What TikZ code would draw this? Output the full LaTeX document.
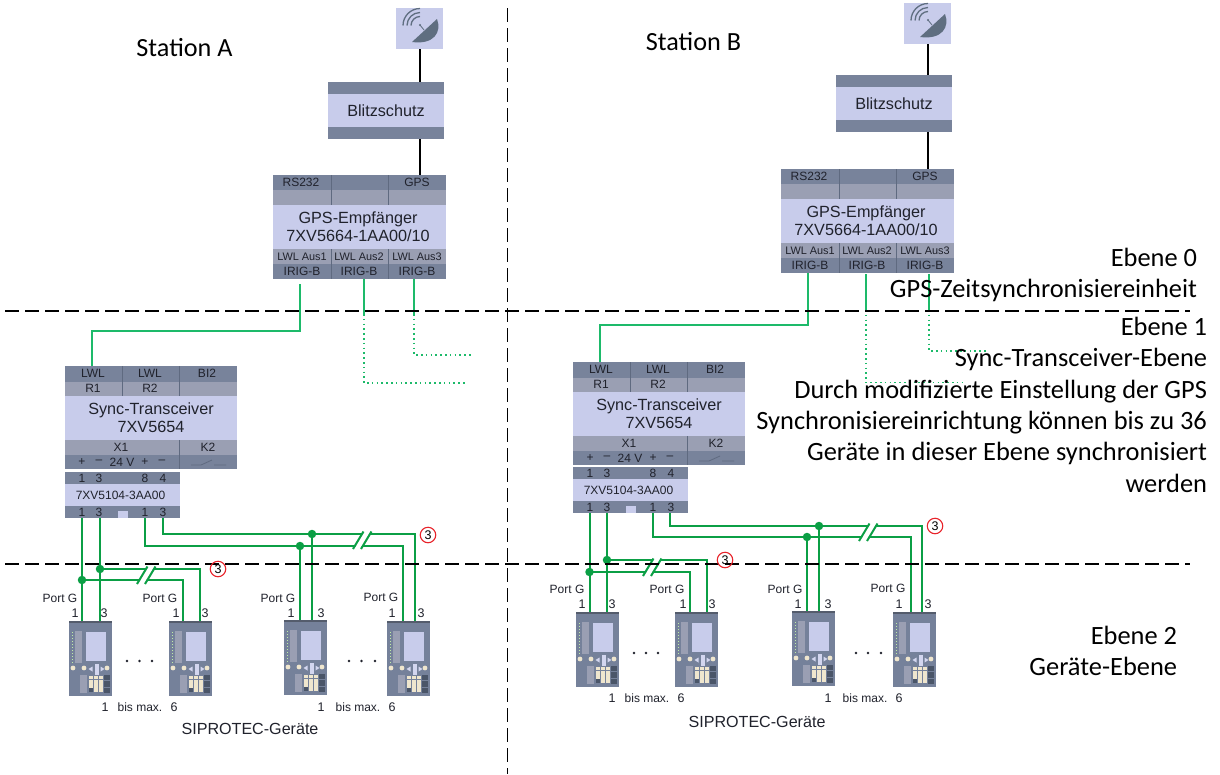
\documentclass[tikz,border=0pt]{standalone}
\usepackage{fontspec}
\setmainfont{Liberation Sans}
\newfontfamily\calib{Carlito}
\definecolor{lightb}{HTML}{C8CCEB}
\definecolor{darkb}{HTML}{78839B}
\definecolor{midb}{HTML}{9A9FB3}
\definecolor{divb}{HTML}{5F6A80}
\definecolor{ink}{HTML}{20222C}
\definecolor{wireg}{HTML}{0B9F45}
\definecolor{fibreg}{HTML}{1DBA6A}
\definecolor{devb}{HTML}{75819A}
\definecolor{dishc}{HTML}{5F6E80}
\definecolor{creamk}{HTML}{EFE6CE}
\definecolor{darkk}{HTML}{4A5568}
\definecolor{redc}{HTML}{E8232A}
\tikzset{
  x=1pt,y=-1pt,
  every node/.style={inner sep=0pt,outer sep=0pt,text=ink},
  band/.style={anchor=north west,draw=none,minimum height=#1},
  lt/.style={band=#1,fill=lightb},
  sm/.style={font=\fontsize{12}{14}\selectfont},
  tiny/.style={font=\fontsize{10.9}{13}\selectfont},
  big/.style={font=\fontsize{16.2}{18}\selectfont,align=center},
  lab/.style={font=\fontsize{12}{14}\selectfont},
  labn/.style={font=\fontsize{12.5}{14}\selectfont},
  devtitle/.style={font=\fontsize{16.1}{18}\selectfont},
  blackline/.style={draw=black,line width=2pt},
  fibre/.style={draw=fibreg,line width=1.9pt},
  fibredot/.style={draw=fibreg,line width=1.6pt,dash pattern=on 1.6pt off 3.2pt},
  cu/.style={draw=wireg,line width=2pt},
  junct/.style={circle,fill=wireg,minimum size=8.5pt},
  sepline/.style={draw=black,line width=1.6pt,dash pattern=on 13.5pt off 6.5pt},
  divl/.style={draw=divb,line width=.6pt},
  note/.style={font=\calib\fontsize{26.4}{31.4}\selectfont,text=black,align=right,anchor=north east},
  titl/.style={font=\calib\fontsize{26.2}{30}\selectfont,text=black},
  numcirc/.style={circle,draw=redc,line width=1.1pt,minimum size=15.5pt,font=\fontsize{12.5}{14}\selectfont,text=black},
  elip/.style={circle,fill=ink,minimum size=2.6pt},
  siprotec/.pic={
    \node[anchor=north west,fill=devb,minimum width=43pt,minimum height=75pt] (-body) at (0,0) {};
    \fill[darkb!70!black] (0,0) rectangle (43,2);
    \fill[midb] (6,10) rectangle (13,42);
    \foreach \q in {11,14,...,41}{\fill[creamk!80!green] (3,\q) rectangle (4,\q+1);}
    \fill[lightb] (17,11) rectangle (37,40);
    \foreach \q in {4,15,38}{\fill[creamk] (\q,47) circle (2.4);}
    \fill[lightb!80!white] (25.5,42.5) rectangle (29.5,54);
    \fill[lightb!80!white] (23.5,45.5) -- (19.5,48) -- (23.5,50.5) -- cycle;
    \fill[lightb!80!white] (31.5,45.5) -- (35.5,48) -- (31.5,50.5) -- cycle;
    \fill[midb] (11,54) rectangle (18,72);
    \foreach \p in {0,1,2}{\foreach \r in {0,1,2,3}{
      \fill[creamk] (20+\p*4.8,55+\r*4.1) rectangle (24.1+\p*4.8,58.4+\r*4.1);}}
    \fill[darkk] (20,67.3) rectangle (24.1,70.7);
    \foreach \r in {0,1,2}{\fill[darkk] (35,54+\r*6.3) rectangle (41,59.4+\r*6.3);}
  }
}
\newcommand{\satunit}[3]{\begin{scope}[shift={(#2,#3)}]
  \node[lt=41pt,minimum width=47pt] (#1) at (0,0) {};
  \fill[dishc] (16,34) -- (41,11) .. controls (46,24) and (38,37) .. (16,34) -- cycle;
  \foreach \r in {9,13,17}{\draw[draw=dishc,line width=1.3pt] (24-\r,17.5) .. controls (24-\r,17.5-.55*\r) and (24-.55*\r,17.5-\r) .. (24,17.5-\r);}
  \draw[draw=dishc,line width=.8pt] (24,17) -- (28,22);
  \fill[dishc] (24,17) circle (1.2);
\end{scope}}
\newcommand{\blitzunit}[3]{\begin{scope}[shift={(#2,#3)}]
  \node[lt=57pt,minimum width=116pt] (#1) at (0,0) {};
  \fill[darkb] (0,0) rectangle (116,12);
  \fill[darkb] (0,45) rectangle (116,57);
  \node[big] (#1t) at (58,28.5) {Blitzschutz};
\end{scope}}
\newcommand{\gpsunit}[3]{\begin{scope}[shift={(#2,#3)}]
  \node[lt=104pt,minimum width=173pt] (#1) at (0,0) {};
  \fill[darkb] (0,0) rectangle (173,15);
  \fill[midb] (0,15) rectangle (173,30);
  \fill[midb] (0,74) rectangle (173,89);
  \fill[darkb] (0,89) rectangle (173,104);
  \draw[divl] (58,0) -- (58,30) (115,0) -- (115,30) (58,74) -- (58,104) (115,74) -- (115,104);
  \node[sm] (#1a) at (28,7.5) {RS232};
  \node[sm] (#1b) at (144,7.5) {GPS};
  \node[big] (#1c) at (85,52) {GPS-Empfänger\\7XV5664-1AA00/10};
  \foreach \c/\n/\t in {29/1/LWL Aus1,86/2/LWL Aus2,144/3/LWL Aus3}{
    \node[tiny] (#1l\n) at (\c,81.5) {\t};
    \node[sm] (#1i\n) at (\c,96.5) {IRIG-B};}
\end{scope}}
\newcommand{\syncunit}[3]{\begin{scope}[shift={(#2,#3)}]
  \node[lt=103pt,minimum width=172pt] (#1) at (0,0) {};
  \fill[darkb] (0,0) rectangle (172,15.5);
  \fill[midb] (0,15.5) rectangle (172,30);
  \fill[midb] (0,74) rectangle (172,89);
  \fill[darkb] (0,89) rectangle (172,103);
  \draw[divl] (57.5,0) -- (57.5,30) (114.5,0) -- (114.5,30) (114.5,74) -- (114.5,103);
  \node[sm] (#1a) at (28,7.5) {LWL};
  \node[sm] (#1b) at (85,7.5) {LWL};
  \node[sm] (#1c) at (142,7.5) {BI2};
  \node[sm] (#1d) at (28,22.5) {R1};
  \node[sm] (#1e) at (85,22.5) {R2};
  \node[big] (#1f) at (86,52) {Sync-Transceiver\\7XV5654};
  \node[sm] (#1g) at (56,81.5) {X1};
  \node[sm] (#1h) at (143,81.5) {K2};
  \node[sm] (#1i) at (17,96) {+};
  \node[sm] (#1j) at (34,96) {–};
  \node[sm] (#1k) at (57,96) {24 V};
  \node[sm] (#1m) at (80,96) {+};
  \node[sm] (#1n) at (97,96) {–};
  \draw[draw=divb,line width=.8pt] (126,99) -- (136,99) -- (147,94) (149,99) -- (161,99);
\end{scope}}
\newcommand{\splitunit}[3]{\begin{scope}[shift={(#2,#3)}]
  \node[lt=46pt,minimum width=115pt] (#1) at (0,0) {};
  \fill[darkb] (0,0) rectangle (115,12);
  \fill[darkb] (0,34) rectangle (115,46);
  \fill[lightb] (53,39) rectangle (63,46);
  \foreach \c/\n/\t in {17/a/1,34/b/3,80/c/8,98/d/4}{\node[sm] (#1t\n) at (\c,6) {\t};}
  \foreach \c/\n/\t in {17/a/1,34/b/3,80/c/1,98/d/3}{\node[sm] (#1b\n) at (\c,40) {\t};}
  \node[sm] (#1m) at (55.5,23) {7XV5104-3AA00};
\end{scope}}
\newcommand{\brk}[2]{%
  \fill[white] (#1+1,#2) -- (#1+11.5,#2-17.5) -- (#1+17.5,#2-17.5) -- (#1+7,#2) -- cycle;
  \draw[cu] (#1,#2) -- (#1+10.5,#2-17.5);
  \draw[cu] (#1+8,#2) -- (#1+18.5,#2-17.5);}
\begin{document}
\begin{tikzpicture}
\useasboundingbox (0,0) rectangle (1220,774);
\fill[white] (0,0) rectangle (1220,774);

% ---- Station A
\satunit{satA}{396}{8}
\blitzunit{blA}{328}{82}
\gpsunit{gpsA}{273}{175}
\syncunit{syA}{65}{366}
\splitunit{spA}{65}{472}
\pic (dA1) at (69,621) {siprotec};
\pic (dA2) at (169,621) {siprotec};
\pic (dA3) at (284,620) {siprotec};
\pic (dA4) at (387,621) {siprotec};

% ---- Station B
\satunit{satB}{904}{3}
\blitzunit{blB}{836}{75}
\gpsunit{gpsB}{781}{169}
\syncunit{syB}{573}{362}
\splitunit{spB}{573}{467}
\pic (dB1) at (576,612) {siprotec};
\pic (dB2) at (675,612) {siprotec};
\pic (dB3) at (792,611) {siprotec};
\pic (dB4) at (893,612) {siprotec};

% black connectors
\draw[blackline] (satA.south) -- (satA.south |- blA.north);
\draw[blackline] (satA.south |- blA.south) -- (satA.south |- gpsA.north);
\draw[blackline] (satB.south) -- (satB.south |- blB.north);
\draw[blackline] (satB.south |- blB.south) -- (satB.south |- gpsB.north);

% fibre A
\coordinate (fa1) at (300,284);
\coordinate (fa2) at (364,279);
\coordinate (fa3) at (414,279);
\coordinate (fa2m) at (364,314);
\coordinate (fa3m) at (414,314);
\coordinate (fa2e) at (467,383);
\coordinate (fa3e) at (472,355);
\coordinate (sa) at (92,366);
\draw[fibre] (fa1) -- (300,331) -- (92,331) -- (sa);
\draw[fibre] (fa2) -- (fa2m);
\draw[fibre] (fa3) -- (fa3m);
\draw[fibredot] (fa2m) -- (fa2m |- fa2e) -- (fa2e);
\draw[fibredot] (fa3m) -- (fa3m |- fa3e) -- (fa3e);

% fibre B
\coordinate (fb1) at (808,273);
\coordinate (fb2) at (866,274);
\coordinate (fb3) at (929,274);
\coordinate (fb2m) at (866,310);
\coordinate (fb3m) at (929,310);
\coordinate (fb2e) at (966,382.5);
\coordinate (fb3e) at (988,351);
\coordinate (sb) at (600,362);
\draw[fibre] (fb1) -- (808,325) -- (600,325) -- (sb);
\draw[fibre] (fb2) -- (fb2m);
\draw[fibre] (fb3) -- (fb3m);
\draw[fibredot] (fb2m) -- (fb2m |- fb2e) -- (fb2e);
\draw[fibredot] (fb3m) -- (fb3m |- fb3e) -- (fb3e);

% copper A
\coordinate (pa1) at (82,518);
\coordinate (pa2) at (100,518);
\coordinate (pa3) at (145,518);
\coordinate (pa4) at (163,518);
\draw[cu] (pa1) -- (82,621);
\draw[cu] (pa2) -- (100,621);
\draw[cu] (82,580) -- (183,580) -- (183,621);
\draw[cu] (100,569) -- (200,569) -- (200,621);
\draw[cu] (pa3) -- (145,546) -- (403,546) -- (403,621);
\draw[cu] (pa4) -- (163,534) -- (415,534) -- (415,621);
\draw[cu] (300,546) -- (300,620);
\draw[cu] (312,534) -- (312,620);
\node[junct] (ja1) at (82,580) {};
\node[junct] (ja2) at (100,569) {};
\node[junct] (ja3) at (300,546) {};
\node[junct] (ja4) at (312,534) {};
\brk{137}{584}
\brk{353}{549}

% copper B
\coordinate (pb1) at (589.5,513);
\coordinate (pb2) at (607,513);
\coordinate (pb3) at (653,513);
\coordinate (pb4) at (670,513);
\draw[cu] (pb1) -- (589.5,612);
\draw[cu] (pb2) -- (607,612);
\draw[cu] (589.5,572) -- (690,572) -- (690,612);
\draw[cu] (607,560) -- (707,560) -- (707,612);
\draw[cu] (pb3) -- (653,537) -- (911,537) -- (911,612);
\draw[cu] (pb4) -- (670,526) -- (922,526) -- (922,612);
\draw[cu] (807,537) -- (807,611);
\draw[cu] (819,526) -- (819,611);
\node[junct] (jb1) at (589.5,572) {};
\node[junct] (jb2) at (607,560) {};
\node[junct] (jb3) at (807,537) {};
\node[junct] (jb4) at (819,526) {};
\brk{643}{576}
\brk{859}{541}

% level separators
\coordinate (h1a) at (5,311);
\coordinate (h1b) at (1190,311);
\coordinate (h2a) at (5,564);
\coordinate (h2b) at (1190,564);
\coordinate (v1a) at (507.5,8);
\coordinate (v1b) at (507.5,774);
\draw[sepline] (h1a) -- (h1b);
\draw[sepline] (h2a) -- (h2b);
\draw[sepline] (v1a) -- (v1b);

% circled numbers
\node[numcirc] (ca1) at (428,535) {3};
\node[numcirc] (ca2) at (218,569) {3};
\node[numcirc] (cb1) at (935,526) {3};
\node[numcirc] (cb2) at (725,560) {3};

% port labels A
\foreach \n/\x/\y in {a/60/598,b/160/598,c/278/598,d/381/597}{\node[lab] (pgA\n) at (\x,\y) {Port G};}
\foreach \n/\x/\t in {a/75/1,b/104/3,c/176/1,d/205/3,e/291/1,f/321/3,g/392/1,h/421/3}{\node[labn] (nA\n) at (\x,613) {\t};}
\foreach \n/\x in {a/127,b/139.5,c/152,d/349,e/361.5,f/375}{\node[elip] (dotA\n) at (\x,661) {};}
\node[labn] (uA1) at (105,707) {1};
\node[lab] (uA2) at (140,707) {bis max.};
\node[labn] (uA3) at (174,707) {6};
\node[labn] (uA4) at (321,707) {1};
\node[lab] (uA5) at (358,707) {bis max.};
\node[labn] (uA6) at (392,707) {6};
\node[devtitle] (sipA) at (250,729) {SIPROTEC-Geräte};

% port labels B
\foreach \n/\x/\y in {a/567/589,b/667/589,c/785/589,d/888/588}{\node[lab] (pgB\n) at (\x,\y) {Port G};}
\foreach \n/\x/\t in {a/582/1,b/612/3,c/683/1,d/712/3,e/798/1,f/828/3,g/899/1,h/928/3}{\node[labn] (nB\n) at (\x,604) {\t};}
\foreach \n/\x in {a/634,b/646,c/658,d/856,e/868,f/881}{\node[elip] (dotB\n) at (\x,653) {};}
\node[labn] (uB1) at (612,698) {1};
\node[lab] (uB2) at (647,698) {bis max.};
\node[labn] (uB3) at (681,698) {6};
\node[labn] (uB4) at (828,698) {1};
\node[lab] (uB5) at (865,698) {bis max.};
\node[labn] (uB6) at (899,698) {6};
\node[devtitle] (sipB) at (757,722) {SIPROTEC-Geräte};

% station titles and notes
\node[titl] (stA) at (184.5,48) {Station A};
\node[titl] (stB) at (693.5,42) {Station B};
\node[note] (n0) at (1197,248) {Ebene 0\\GPS-Zeitsynchronisiereinheit};
\node[note] (n1) at (1207,317) {Ebene 1\\Sync-Transceiver-Ebene\\Durch modifizierte Einstellung der GPS\\Synchronisiereinrichtung können bis zu 36\\Geräte in dieser Ebene synchronisiert\\werden};
\node[note] (n2) at (1177,626) {Ebene 2\\Geräte-Ebene};
\end{tikzpicture}
\end{document}
